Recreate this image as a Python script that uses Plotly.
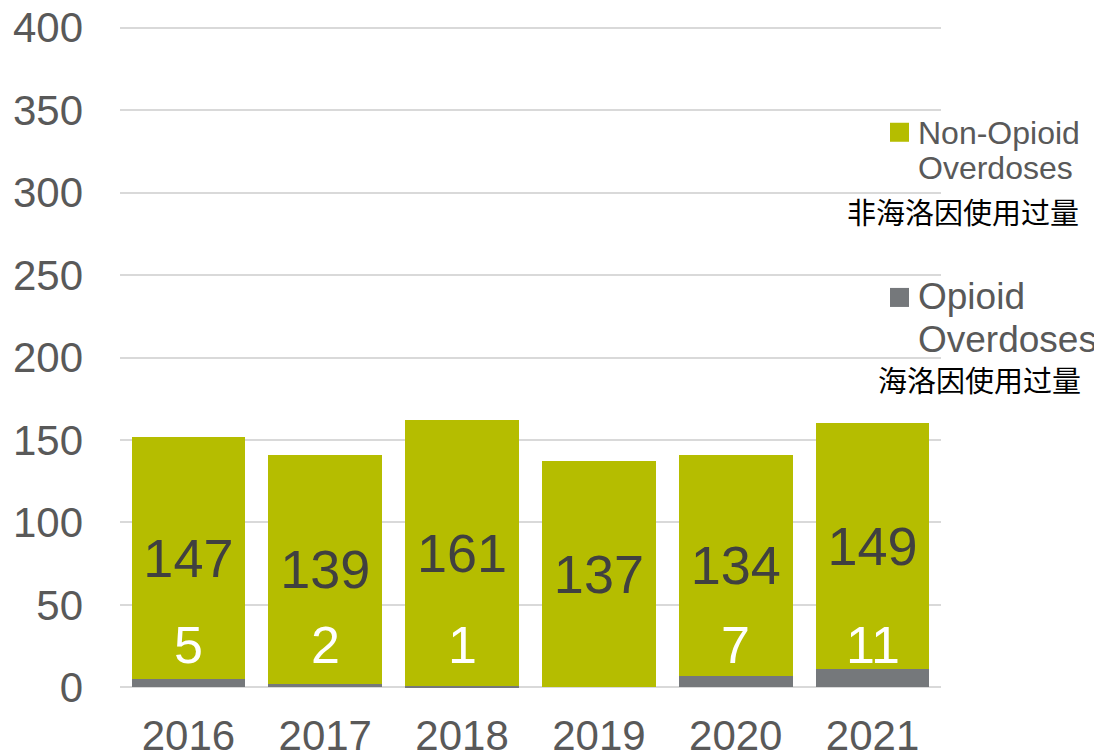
import plotly.graph_objects as go

years = ["2016", "2017", "2018", "2019", "2020", "2021"]
opioid = [5, 2, 1, 0, 7, 11]
non_opioid = [147, 139, 161, 137, 134, 149]
y_ticks = [0, 50, 100, 150, 200, 250, 300, 350, 400]

GREEN = "#B5BD00"
GREY = "#75787B"
TICK_COLOR = "#595959"
LABEL_DARK = "#404040"
FONT = "Liberation Sans, Arial, sans-serif"
CJK = "Noto Sans CJK SC, sans-serif"

OFF = 8  # page body margin in the browser
W, H = 1102 - OFF, 753 - OFF
# target screen positions: y=0 at 687px, y=400 at 28px; plot x from 120 to 941
UNIT = (687 - 28) / 400.0
L = 120 - OFF
R = 1102 - 941
T = 28 - OFF - UNIT
B = 753 - 687 - UNIT
PW, PH = W - L - R, H - T - B


def px(x):
    return (x - OFF - L) / PW


def py(y):
    return (H - B - (y - OFF)) / PH


fig = go.Figure()
fig.add_trace(go.Bar(
    x=years, y=opioid, name="Opioid Overdoses",
    marker=dict(color=GREY, line=dict(width=0)),
    showlegend=False,
))
fig.add_trace(go.Bar(
    x=years, y=non_opioid, name="Non-Opioid Overdoses",
    marker=dict(color=GREEN, line=dict(width=0)),
    text=[str(v) for v in non_opioid],
    textposition="inside", insidetextanchor="middle",
    textangle=0, constraintext="none",
    insidetextfont=dict(family=FONT, size=54, color=LABEL_DARK),
    showlegend=False,
))

LABEL_Y = 25.5
annotations = []
for i, v in enumerate(opioid):
    if v:
        annotations.append(dict(
            x=i, y=LABEL_Y, xref="x", yref="y", text=str(v), showarrow=False,
            font=dict(family=FONT, size=52, color="#FFFFFF"),
            xanchor="center", yanchor="middle",
        ))

# custom legend
legend_items = [
    (GREEN, 123, [("Non-Opioid", 133, 32), ("Overdoses", 168, 32)], ("非海洛因使用过量", 211, 1081)),
    (GREY, 288, [("Opioid", 297, 37), ("Overdoses", 340, 37)], ("海洛因使用过量", 379, 1083)),
]
shapes = []
for color, top, lines, (cn, cy, cx) in legend_items:
    shapes.append(dict(type="rect", xref="paper", yref="paper",
                       x0=px(890), x1=px(909), y0=py(top + 19), y1=py(top),
                       fillcolor=color, line=dict(width=0)))
    for txt, yc, size in lines:
        annotations.append(dict(
            x=px(916), y=py(yc), xref="paper", yref="paper", text=txt,
            showarrow=False, xanchor="left", yanchor="middle",
            font=dict(family=FONT, size=size, color=TICK_COLOR),
        ))
    annotations.append(dict(
        x=px(cx), y=py(cy), xref="paper", yref="paper", text=cn,
        showarrow=False, xanchor="right", yanchor="middle",
        font=dict(family=CJK, size=29, color="#000000"),
    ))

fig.update_layout(
    width=W, height=H,
    margin=dict(l=L, r=R, t=T, b=B, pad=0),
    barmode="stack", bargap=0.17,
    plot_bgcolor="white", paper_bgcolor="white",
    annotations=annotations, shapes=shapes,
    showlegend=False,
)
fig.update_xaxes(
    type="category", range=[-0.5, len(years) - 0.5], automargin=False,
    showgrid=False, showline=False, zeroline=False, ticks="",
    tickfont=dict(family=FONT, size=42, color=TICK_COLOR),
    ticklabelstandoff=18, ticklabeloverflow="allow",
)
fig.update_yaxes(
    range=[-1, 401], tickvals=y_ticks, ticktext=[str(v) for v in y_ticks],
    automargin=False,
    showgrid=True, gridcolor="#D9D9D9", gridwidth=2,
    zeroline=False, showline=False, ticks="",
    tickfont=dict(family=FONT, size=42, color=TICK_COLOR),
    ticklabelstandoff=36, ticklabeloverflow="allow",
)

fig.write_html("out.html")
